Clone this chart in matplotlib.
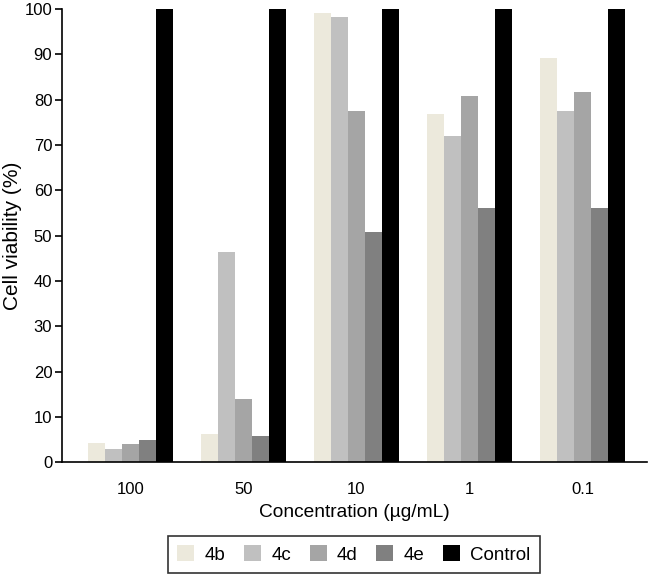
import numpy as np
import matplotlib.pyplot as plt
from matplotlib.patches import Patch

plt.rcParams['font.family'] = ['Liberation Sans', 'DejaVu Sans']

# data
concentrations = ['100', '50', '10', '1', '0.1']
series_names = ['4b', '4c', '4d', '4e', 'Control']
v_4b = [4.3, 6.2, 99.1, 76.8, 89.2]
v_4c = [3.0, 46.4, 98.3, 72.0, 77.6]
v_4d = [4.0, 14.0, 77.6, 80.9, 81.6]
v_4e = [4.9, 5.9, 50.7, 56.1, 56.1]
v_control = [100, 100, 100, 100, 100]
colors = ['#ece9dc', '#c0c0c0', '#a5a5a5', '#808080', '#000000']

fig = plt.figure(figsize=(6.48, 5.75), dpi=100)
ax = fig.add_axes([62 / 648, 1 - 462.3 / 575, 585 / 648, 453.3 / 575])

x = np.arange(len(concentrations))
width = 0.152
all_vals = [v_4b, v_4c, v_4d, v_4e, v_control]
for i, (vals, c) in enumerate(zip(all_vals, colors)):
    ax.bar(x + (i - 2) * width, vals, width, color=c, linewidth=0)

ax.set_xlim(-0.606, 4.571)
ax.set_ylim(0, 100)
ax.set_yticks(np.arange(0, 101, 10))
ax.set_xticks(x)
ax.set_xticklabels(concentrations)
ax.tick_params(axis='x', length=0, labelsize=12, pad=14)
ax.tick_params(axis='y', length=5, width=1.2, labelsize=12, pad=2)
for s in ['top', 'right']:
    ax.spines[s].set_visible(False)
for s in ['left', 'bottom']:
    ax.spines[s].set_linewidth(1.2)

ax.set_xlabel('Concentration (µg/mL)', fontsize=13.8, labelpad=5)
ax.set_ylabel('Cell viability (%)', fontsize=15, labelpad=1.5)

handles = [Patch(facecolor=c, edgecolor='none') for c in colors]
leg = fig.legend(handles, series_names, loc='lower center', ncol=5,
                 bbox_to_anchor=(354 / 648, 2 / 575), fontsize=13.5,
                 frameon=True, fancybox=False, edgecolor='black',
                 handlelength=0.9, handleheight=0.9, handletextpad=0.55,
                 columnspacing=1.0, borderpad=0.5, borderaxespad=0)
leg.get_frame().set_linewidth(1.2)

fig.savefig('out.png', dpi=100)
